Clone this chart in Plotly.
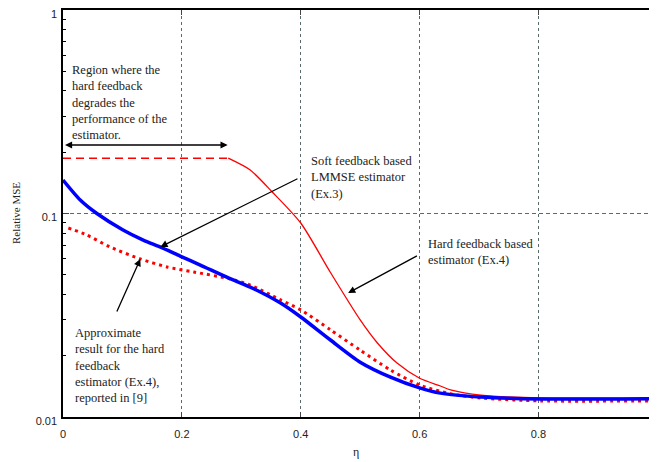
import numpy as np
import plotly.graph_objects as go

# ---- data ----
soft_eta = [0.0, 0.029, 0.057, 0.101, 0.135, 0.163, 0.197, 0.231, 0.28, 0.315,
            0.366, 0.4, 0.45, 0.5, 0.551, 0.6, 0.635, 0.703, 0.804, 0.99]
soft_mse = [0.146, 0.1165, 0.1, 0.083, 0.074, 0.0685, 0.0618, 0.0558, 0.048, 0.0435,
            0.0363, 0.031, 0.0239, 0.0186, 0.0157, 0.0139, 0.0131, 0.01254, 0.01227, 0.0123]

approx_eta = [0.009, 0.04, 0.079, 0.13, 0.175, 0.22, 0.28, 0.315, 0.366, 0.4,
              0.45, 0.5, 0.551, 0.6, 0.652, 0.703, 0.804, 0.99]
approx_mse = [0.0849, 0.0784, 0.0685, 0.0598, 0.0546, 0.0516, 0.0478, 0.0445, 0.0376, 0.0336,
              0.0268, 0.0213, 0.017, 0.01436, 0.0130, 0.0124, 0.0120, 0.0120]

hard_flat_eta = [0.0, 0.278]
hard_flat_mse = [0.187, 0.187]

hard_eta = [0.278, 0.315, 0.352, 0.4, 0.45, 0.5, 0.529, 0.562, 0.6,
            0.635, 0.652, 0.703, 0.804, 0.99]
hard_mse = [0.187, 0.1636, 0.1276, 0.0898, 0.0513, 0.030, 0.0231, 0.0184, 0.0155,
            0.0142, 0.0136, 0.0128, 0.0124, 0.0124]

x_ticks = [0, 0.2, 0.4, 0.6, 0.8]
y_ticks = [0.01, 0.1, 1]
y_tick_labels = ["0.01", "0.1", "1"]
y_minor = [m * d for d in (0.01, 0.1) for m in range(2, 10)]

serif = "Liberation Serif, Times New Roman, serif"
sans = "Liberation Sans, Arial, sans-serif"

fig = go.Figure()
fig.add_trace(go.Scatter(x=hard_flat_eta, y=hard_flat_mse, mode="lines",
                         line=dict(color="#ff0000", width=1.6, dash="8px,5px")))
fig.add_trace(go.Scatter(x=hard_eta, y=hard_mse, mode="lines",
                         line=dict(color="#ff0000", width=1.3, shape="spline", smoothing=0.7)))
fig.add_trace(go.Scatter(x=approx_eta, y=approx_mse, mode="lines",
                         line=dict(color="#ff0000", width=3, dash="3px,4px", shape="spline", smoothing=0.7)))
fig.add_trace(go.Scatter(x=soft_eta, y=soft_mse, mode="lines",
                         line=dict(color="#0000ff", width=3.5, shape="spline", smoothing=0.7)))

grid_col = "#5a6a6a"
fig.update_xaxes(range=[0, 0.996], tickvals=x_ticks, ticks="inside", ticklen=5,
                 showgrid=True, gridcolor=grid_col, griddash="3px,3px", gridwidth=1,
                 showline=True, linecolor="black", linewidth=1.5, mirror="ticks",
                 zeroline=False, ticklabelstandoff=6, automargin=False,
                 tickfont=dict(family=sans, size=11, color="#222"))
fig.update_yaxes(type="log", range=[-2, 0], tickvals=y_ticks, ticktext=y_tick_labels,
                 ticks="inside", ticklen=6, showgrid=True, gridcolor=grid_col,
                 griddash="4px,3px", gridwidth=1,
                 minor=dict(tickvals=y_minor, ticks="inside", ticklen=3, showgrid=False,
                            tickcolor="black"),
                 showline=True, linecolor="black", linewidth=1.5, mirror="allticks",
                 zeroline=False, ticklabeloverflow="allow", ticklabelshift=4,
                 ticklabelstandoff=2, automargin=False,
                 tickfont=dict(family=sans, size=11, color="#222"))

# page body has an 8px margin, so the figure is shifted by 8px
OFF = 8
W, L, T, H = 592, 63, 10, 407

def ex(px):
    return (px - L) / W

def ly(py):
    return -(py - T) / 203.5

anns = []
def text(px, py, s):
    anns.append(dict(x=ex(px), y=ly(py), xref="x", yref="y", text=s, showarrow=False,
                     xanchor="left", yanchor="top", align="left",
                     font=dict(family=serif, size=12.5, color="#222")))

def arrow(tx, ty, hx, hy, side="end"):
    anns.append(dict(x=ex(hx), y=ly(hy), ax=ex(tx), ay=ly(ty), xref="x", yref="y",
                     axref="x", ayref="y", text="", showarrow=True, arrowhead=2,
                     arrowsize=1.1, arrowwidth=1.3, arrowcolor="black", arrowside=side,
                     standoff=0, startstandoff=0))

text(70, 61, "Region where the<br>hard feedback<br>degrades the<br>performance of the<br>estimator.")
text(308, 152, "Soft feedback based<br>LMMSE estimator<br>(Ex.3)")
text(425, 235, "Hard feedback based<br>estimator (Ex.4)")
text(73, 324, "Approximate<br>result for the hard<br>feedback<br>estimator (Ex.4),<br>reported in [9]")

arrow(63.5, 145, 227, 145, side="end+start")
arrow(298, 178, 160, 247)
arrow(417, 255, 347, 293)
arrow(116, 313, 140, 259)

anns.append(dict(x=(16 - L) / W, y=(10 - 214) / -H, xref="paper", yref="paper",
                 text="Relative MSE", textangle=-90, showarrow=False,
                 xanchor="center", yanchor="middle",
                 font=dict(family=serif, size=11, color="#222")))
anns.append(dict(x=(356 - L) / W, y=(417 - 452) / H, xref="paper", yref="paper", text="η",
                 showarrow=False, xanchor="center", yanchor="middle",
                 font=dict(family=serif, size=12, color="#222")))

fig_w, fig_h = 657 - OFF, 462 - OFF
fig.update_layout(width=fig_w, height=fig_h,
                  margin=dict(l=L - OFF, r=fig_w - (L - OFF) - W, t=T - OFF, b=fig_h - (T - OFF) - H,
                              autoexpand=False),
                  plot_bgcolor="white", paper_bgcolor="white", showlegend=False,
                  annotations=anns)
fig.write_html("out.html")
